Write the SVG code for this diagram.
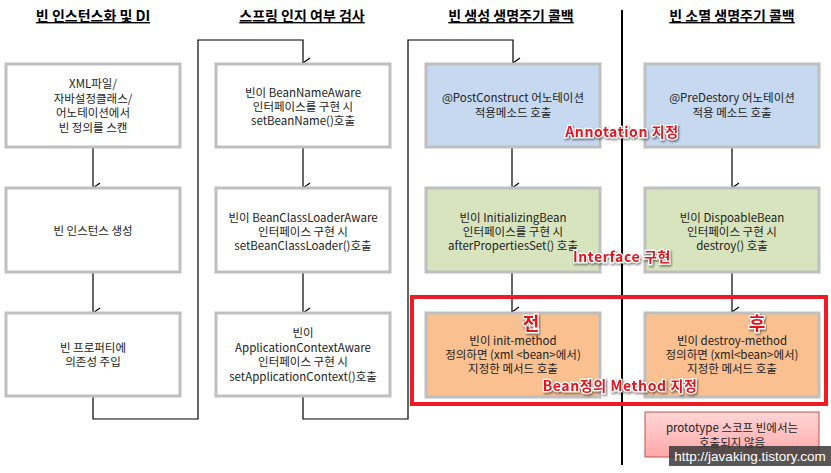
<svg xmlns="http://www.w3.org/2000/svg" width="831" height="473" viewBox="0 0 831 473">
<defs>
<marker id="ah" markerWidth="12" markerHeight="12" refX="6" refY="10" orient="auto-start-reverse" markerUnits="userSpaceOnUse" viewBox="0 0 12 12">
<polyline points="1,3 6,10 11,3" fill="none" stroke="#000" stroke-width="1.2"/>
</marker>
<linearGradient id="pink" x1="0" y1="0" x2="0" y2="1">
<stop offset="0" stop-color="#ffd6d6"/>
<stop offset="1" stop-color="#ffa8a8"/>
</linearGradient>
<filter id="sh" x="-10%" y="-30%" width="120%" height="160%">
<feDropShadow dx="1" dy="1.5" stdDeviation="0.8" flood-color="#000" flood-opacity="0.55"/>
</filter>
</defs>
<style>
.hd{font-family:"Noto Sans CJK KR","Malgun Gothic",sans-serif;font-size:14px;font-weight:bold;text-anchor:middle;fill:#000;text-decoration:underline}
.bx{stroke:#bfbfbf;stroke-width:3}
.w{fill:#fff}
.b{fill:#c6d9f1}
.g{fill:#d7e4bd}
.o{fill:#fac090}
.t{font-family:"Noto Sans CJK KR","Malgun Gothic",sans-serif;font-size:11.5px;text-anchor:middle;fill:#222;dominant-baseline:central}
.ln{fill:none;stroke:#000;stroke-width:1.2}
.ov{font-family:"Noto Sans CJK KR",sans-serif;font-weight:bold;fill:#e0151f;stroke:#fff;stroke-width:2.5;paint-order:stroke;text-anchor:middle;dominant-baseline:central;filter:url(#sh)}
</style>
<rect width="831" height="473" fill="#fff"/>

<g id="headers">
<text class="hd" x="93" y="21">빈 인스턴스화 및 DI</text>
<text class="hd" x="302" y="21">스프링 인지 여부 검사</text>
<text class="hd" x="511" y="21">빈 생성 생명주기 콜백</text>
<text class="hd" x="732" y="21">빈 소멸 생명주기 콜백</text>
</g>

<line x1="622" y1="10" x2="622" y2="465" stroke="#000" stroke-width="2"/>

<g id="connectors">
<line class="ln" x1="93" y1="147" x2="93" y2="188" marker-end="url(#ah)"/>
<line class="ln" x1="93" y1="272" x2="93" y2="313" marker-end="url(#ah)"/>
<polyline class="ln" points="93,396 93,419 198,419 198,40 303,40 303,63" marker-end="url(#ah)"/>
<line class="ln" x1="303" y1="147" x2="303" y2="188" marker-end="url(#ah)"/>
<line class="ln" x1="303" y1="272" x2="303" y2="313" marker-end="url(#ah)"/>
<polyline class="ln" points="303,396 303,419 408,419 408,40 513,40 513,63" marker-end="url(#ah)"/>
<line class="ln" x1="512" y1="147" x2="512" y2="188" marker-end="url(#ah)"/>
<line class="ln" x1="512" y1="272" x2="512" y2="312" marker-end="url(#ah)"/>
<line class="ln" x1="732" y1="147" x2="732" y2="188" marker-end="url(#ah)"/>
<line class="ln" x1="732" y1="272" x2="732" y2="312" marker-end="url(#ah)"/>
</g>

<g id="n1">
<rect class="bx w" x="6" y="64" width="174" height="83"/>
<text class="t" x="93" y="83">XML파일/</text>
<text class="t" x="93" y="97.5">자바설정클래스/</text>
<text class="t" x="93" y="112">어노테이션에서</text>
<text class="t" x="93" y="126.5">빈 정의를 스캔</text>
</g>
<g id="n2">
<rect class="bx w" x="6" y="188" width="174" height="84"/>
<text class="t" x="93" y="230">빈 인스턴스 생성</text>
</g>
<g id="n3">
<rect class="bx w" x="6" y="313" width="174" height="83"/>
<text class="t" x="93" y="347">빈 프로퍼티에</text>
<text class="t" x="93" y="361">의존성 주입</text>
</g>

<g id="n4">
<rect class="bx w" x="216" y="64" width="174" height="83"/>
<text class="t" x="303" y="92">빈이 BeanNameAware</text>
<text class="t" x="303" y="106">인터페이스를 구현 시</text>
<text class="t" x="303" y="120">setBeanName()호출</text>
</g>
<g id="n5">
<rect class="bx w" x="216" y="188" width="174" height="84"/>
<text class="t" x="303" y="217">빈이 BeanClassLoaderAware</text>
<text class="t" x="303" y="231">인터페이스 구현 시</text>
<text class="t" x="303" y="245">setBeanClassLoader()호출</text>
</g>
<g id="n6">
<rect class="bx w" x="216" y="313" width="174" height="83"/>
<text class="t" x="303" y="332">빈이</text>
<text class="t" x="303" y="346.5">ApplicationContextAware</text>
<text class="t" x="303" y="361">인터페이스 구현 시</text>
<text class="t" x="303" y="375.5">setApplicationContext()호출</text>
</g>

<g id="n7">
<rect class="bx b" x="426" y="64" width="174" height="83"/>
<text class="t" x="513" y="97">@PostConstruct 어노테이션</text>
<text class="t" x="513" y="112">적용메소드 호출</text>
</g>
<g id="n8">
<rect class="bx g" x="426" y="188" width="174" height="84"/>
<text class="t" x="513" y="217">빈이 InitializingBean</text>
<text class="t" x="513" y="231">인터페이스를 구현 시</text>
<text class="t" x="513" y="245">afterPropertiesSet()  호출</text>
</g>
<g id="n9">
<rect class="bx o" x="426" y="313" width="174" height="84"/>
<text class="t" x="513" y="340">빈이 init-method</text>
<text class="t" x="513" y="354">정의하면 (xml &lt;bean&gt;에서)</text>
<text class="t" x="513" y="368">지정한 메서드 호출</text>
</g>

<g id="n10">
<rect class="bx b" x="645" y="64" width="174" height="83"/>
<text class="t" x="732" y="97">@PreDestory 어노테이션</text>
<text class="t" x="732" y="112">적용 메소드 호출</text>
</g>
<g id="n11">
<rect class="bx g" x="645" y="188" width="174" height="84"/>
<text class="t" x="732" y="217">빈이 DispoableBean</text>
<text class="t" x="732" y="231">인터페이스 구현 시</text>
<text class="t" x="732" y="245">destroy() 호출</text>
</g>
<g id="n12">
<rect class="bx o" x="645" y="313" width="174" height="84"/>
<text class="t" x="732" y="340">빈이 destroy-method</text>
<text class="t" x="732" y="354">정의하면 (xml&lt;bean&gt;에서)</text>
<text class="t" x="732" y="368">지정한 메서드 호출</text>
</g>

<rect x="412" y="297" width="414" height="107" fill="none" stroke="#ed1c24" stroke-width="4"/>

<g id="n13">
<rect x="645" y="412" width="174" height="45" fill="url(#pink)" stroke="#c0504d" stroke-width="1"/>
<text class="t" x="732" y="427">prototype 스코프 빈에서는</text>
<text class="t" x="732" y="442">호출되지 않음</text>
</g>

<g id="overlays">
<text class="ov" x="622" y="131" font-size="14" letter-spacing="0.6">Annotation 지정</text>
<text class="ov" x="622" y="256" font-size="14" letter-spacing="0.6">Interface 구현</text>
<text class="ov" x="620" y="385" font-size="14" letter-spacing="0.6">Bean정의 Method 지정</text>
<text class="ov" x="531" y="322" font-size="18">전</text>
<text class="ov" x="757" y="322" font-size="18">후</text>
</g>

<g id="watermark">
<rect x="669" y="446" width="162" height="20" fill="#3a3a3a" fill-opacity="0.85"/>
<text x="750" y="456.5" font-family="Liberation Sans, sans-serif" font-size="13.5" fill="#fff" text-anchor="middle" dominant-baseline="central">http://javaking.tistory.com</text>
</g>
</svg>
